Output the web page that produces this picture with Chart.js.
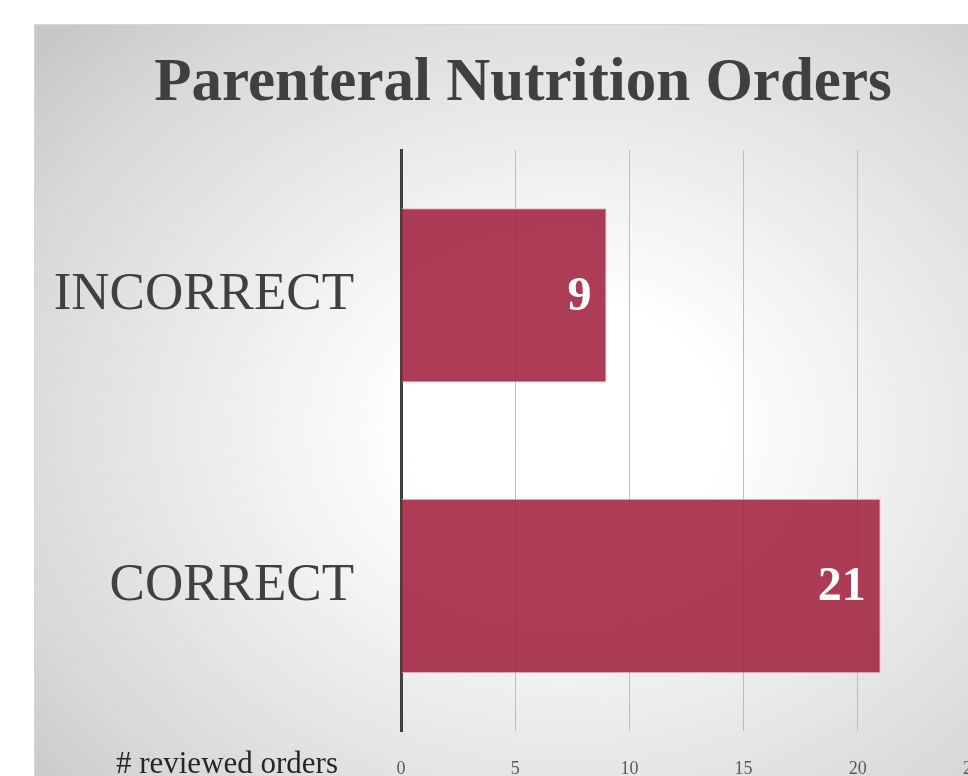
<!DOCTYPE html>
<html>
<head>
<meta charset="utf-8">
<title>Parenteral Nutrition Orders</title>
<script src="https://cdn.jsdelivr.net/npm/chart.js@4"></script>
<style>
  html, body { margin: 0; padding: 0; background: #fff; overflow: hidden; width: 968px; height: 776px; }
  #frame {
    position: absolute; left: 34px; top: 24px; width: 1000px; height: 809px;
    border-top: 1px solid #d6d6d6; border-left: 1px solid #d6d6d6;
    background: radial-gradient(ellipse 70% 70% at 53% 50%, #ffffff 0%, #ffffff 22%, #d6d6d6 85%, #c8c8c8 100%);
  }
  #mycanvas { position: absolute; left: -1px; top: -1px; }
</style>
</head>
<body>
<div id="frame"><canvas id="mycanvas" width="1000" height="809"></canvas></div>
<script>
var titleText = 'Parenteral Nutrition Orders';
var axisLabel = '# reviewed orders';
var categories = ['INCORRECT', 'CORRECT'];
var orderCounts = [9, 21];
var xMin = 0, xMax = 25, xStep = 5;

var serif = '"Liberation Serif", "DejaVu Serif", serif';

// title, axis caption and the value labels inside the bars
var textPlugin = {
    id: 'textPlugin',
    afterDatasetsDraw: function(chart) {
        var ctx = chart.ctx;
        ctx.save();
        ctx.fillStyle = '#ffffff';
        ctx.font = 'bold 48px ' + serif;
        ctx.textAlign = 'right';
        ctx.textBaseline = 'middle';
        chart.getDatasetMeta(0).data.forEach(function(bar, i) {
            ctx.fillText(String(orderCounts[i]), bar.x - 15, bar.y + 2);
        });
        ctx.restore();
    },
    afterDraw: function(chart) {
        var ctx = chart.ctx;
        var area = chart.chartArea;
        ctx.save();
        ctx.fillStyle = '#404040';
        ctx.font = 'bold 61px ' + serif;
        ctx.textAlign = 'center';
        ctx.textBaseline = 'alphabetic';
        ctx.fillText(titleText, 489, 76);

        ctx.fillStyle = '#262626';
        ctx.font = '31px ' + serif;
        ctx.textAlign = 'right';
        ctx.fillText(axisLabel, area.left - 63, area.bottom + 42);
        ctx.restore();
    }
};

var chartdata = {
    labels: categories,
    datasets: [
        {
            label: axisLabel,
            data: orderCounts,
            backgroundColor: 'rgba(163, 40, 66, 0.9)',
            borderColor: 'rgba(232, 190, 200, 0.9)',
            borderWidth: 1,
            borderSkipped: 'start',
            barPercentage: 0.6,
            categoryPercentage: 1.0
        }
    ]
};

var config = {
    type: 'bar',
    data: chartdata,
    options: {
        indexAxis: 'y',
        responsive: false,
        animation: false,
        layout: { padding: { left: 0, top: 126, right: 62, bottom: 26 } },
        plugins: {
            legend: { display: false },
            title: { display: false },
            tooltip: { enabled: false }
        },
        scales: {
            x: {
                min: xMin,
                max: xMax,
                ticks: {
                    stepSize: xStep,
                    padding: 27,
                    color: '#595959',
                    font: { family: serif, size: 18 }
                },
                grid: { color: '#bdbdbd', lineWidth: 1, drawTicks: false },
                border: { display: false }
            },
            y: {
                afterFit: function(scale) { scale.width = 367; },
                ticks: {
                    padding: 47,
                    color: '#404040',
                    font: { family: serif, size: 53 }
                },
                grid: { display: false, drawTicks: false },
                border: { display: true, color: '#404040', width: 3 }
            }
        }
    },
    plugins: [textPlugin]
};

var myChart = new Chart(document.getElementById('mycanvas'), config);
</script>
</body>
</html>
